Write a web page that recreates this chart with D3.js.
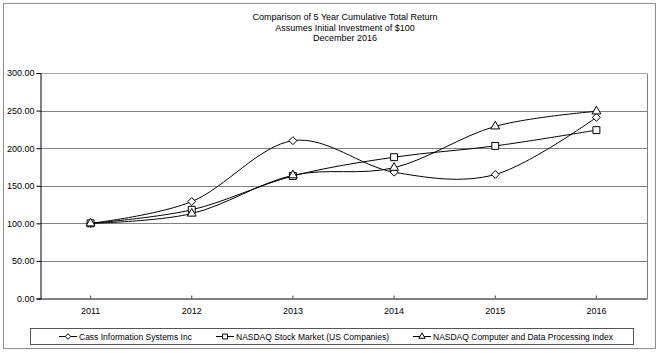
<!DOCTYPE html>
<html>
<head>
<meta charset="utf-8">
<script src="https://cdn.jsdelivr.net/npm/d3@7"></script>
<style>
  body { margin: 0; background: #fff; }
  text { font-family: "Liberation Sans", Arial, sans-serif; fill: #000; }
</style>
</head>
<body>
<div id="chart"></div>
<script>
// chart data
const years = ["2011", "2012", "2013", "2014", "2015", "2016"];
const cass = [100, 129, 210, 168, 165, 241];
const nasdaq = [100, 118, 163, 188, 203, 224];
const computer = [100, 113, 164, 174, 229, 249];
const seriesNames = ["Cass Information Systems Inc", "NASDAQ Stock Market (US Companies)", "NASDAQ Computer and Data Processing Index"];
const yTicks = [0, 50, 100, 150, 200, 250, 300];
const titleLines = ["Comparison of 5 Year Cumulative Total Return", "Assumes Initial Investment of $100", "December 2016"];

const W = 660, H = 353;
const plot = { left: 40, right: 647, top: 73, bottom: 298.5 };

const svg = d3.select("#chart").append("svg")
    .attr("width", W)
    .attr("height", H);

// outer frame
svg.append("rect")
    .attr("x", 3.5).attr("y", 3.5)
    .attr("width", 652).attr("height", 345)
    .attr("fill", "none")
    .attr("stroke", "#8c8c8c");

// title
svg.selectAll(".title")
    .data(titleLines)
    .enter()
    .append("text")
    .attr("x", 345)
    .attr("y", function (d, i) { return 20 + i * 10.5; })
    .style("text-anchor", "middle")
    .style("font-size", "9px")
    .text(function (d) { return d; });

let x = d3.scaleBand()
    .domain(years)
    .range([plot.left, plot.right]);

let y = d3.scaleLinear()
    .domain([0, 300])
    .range([plot.bottom, plot.top]);

// gridlines
svg.append("g")
    .selectAll("line")
    .data(yTicks.filter(function (d) { return d > 0; }))
    .enter()
    .append("line")
    .attr("x1", plot.left).attr("x2", plot.right)
    .attr("y1", function (d) { return Math.round(y(d)) + 0.5; })
    .attr("y2", function (d) { return Math.round(y(d)) + 0.5; })
    .attr("stroke", function (d) { return d == 300 ? "#a8a8a8" : "#808080"; });

// right border of the plot area
svg.append("line")
    .attr("x1", plot.right + 0.5).attr("x2", plot.right + 0.5)
    .attr("y1", Math.round(y(300)) + 0.5).attr("y2", plot.bottom)
    .attr("stroke", "#808080");

// y axis
let yAxis = svg.append("g")
    .attr("transform", `translate(${plot.left + 0.5},0)`)
    .call(d3.axisLeft(y).tickValues(yTicks).tickFormat(d3.format(".2f")).tickSize(4).tickPadding(2));
yAxis.select(".domain").attr("stroke", "#000");
yAxis.selectAll("text").style("font-size", "9px").style("font-family", "Liberation Sans, Arial, sans-serif");

// x axis
let xAxis = svg.append("g")
    .attr("transform", `translate(0,${plot.bottom})`)
    .call(d3.axisBottom(x).tickSizeInner(-3).tickSizeOuter(0).tickPadding(9));
xAxis.select(".domain").attr("stroke", "#000");
xAxis.selectAll("line").attr("stroke", "#444");
xAxis.selectAll("text").style("font-size", "9px").style("font-family", "Liberation Sans, Arial, sans-serif");

const cx = function (d, i) { return x(years[i]) + x.bandwidth() / 2; };

const series = [
    { name: seriesNames[0], values: cass, symbol: d3.symbolDiamond2, size: 40 },
    { name: seriesNames[1], values: nasdaq, symbol: d3.symbolSquare, size: 48 },
    { name: seriesNames[2], values: computer, symbol: d3.symbolTriangle, size: 34 }
];

let line = d3.line()
    .x(cx)
    .y(function (d) { return y(d); })
    .curve(d3.curveCardinal.tension(0));

series.forEach(function (s) {
    svg.append("path")
        .datum(s.values)
        .attr("d", line)
        .attr("fill", "none")
        .attr("stroke", "#000")
        .attr("stroke-width", 1);
});

series.forEach(function (s) {
    svg.append("g")
        .selectAll("path")
        .data(s.values)
        .enter()
        .append("path")
        .attr("transform", function (d, i) { return `translate(${cx(d, i)},${y(d)})`; })
        .attr("d", d3.symbol().type(s.symbol).size(s.size))
        .attr("fill", "#fff")
        .attr("stroke", "#000")
        .attr("stroke-width", 1);
});

// legend
svg.append("rect")
    .attr("x", 30.5).attr("y", 328.5)
    .attr("width", 603).attr("height", 16)
    .attr("fill", "none")
    .attr("stroke", "#555");

const legendX = [59, 216, 413];
series.forEach(function (s, i) {
    let g = svg.append("g").attr("transform", `translate(${legendX[i]},336.5)`);
    g.append("line")
        .attr("x1", 0).attr("x2", 18)
        .attr("stroke", "#000");
    g.append("path")
        .attr("transform", "translate(9,0)")
        .attr("d", d3.symbol().type(s.symbol).size(s.size * 0.5))
        .attr("fill", "#fff")
        .attr("stroke", "#000");
    g.append("text")
        .attr("x", 20)
        .attr("y", 3)
        .style("font-size", "8.5px")
        .text(s.name);
});
</script>
</body>
</html>
